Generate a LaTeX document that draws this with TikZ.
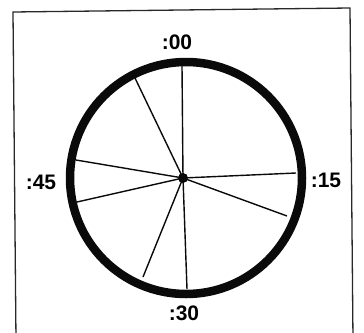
\documentclass[tikz,border=0pt]{standalone}
\usepackage{fontspec}
\setmainfont{Liberation Sans}
\usepackage{tikz}
\usetikzlibrary{positioning,calc}
\definecolor{inkblack}{RGB}{10,10,10}
\definecolor{framegray}{RGB}{40,40,40}
\tikzset{
  rim/.style    ={draw=inkblack, line width=8.5pt},
  spoke/.style  ={draw=inkblack, line width=1.4pt},
  hubdot/.style ={circle, fill=inkblack, inner sep=0pt, minimum size=10pt},
  minlbl/.style ={font=\fontsize{21}{21}\selectfont\bfseries, inner sep=0pt},
  frame/.style  ={draw=framegray, line width=1.3pt}
}
\begin{document}
\begin{tikzpicture}[x=1pt, y=-1pt]
\useasboundingbox (0,0) rectangle (364,332);
\draw[frame] (16,340) -- (13,12) -- (350,8) -- (353,340);
\draw[rim] (186,178) circle[radius=116];
\node[hubdot] (hub) at (183,178) {};
\coordinate (r1) at (182,66);
\coordinate (r2) at (135,78);
\coordinate (r3) at (76,160);
\coordinate (r4) at (77,202);
\coordinate (r5) at (143,277);
\coordinate (r6) at (187,289);
\coordinate (r7) at (287,216);
\coordinate (r8) at (296,173);
\foreach \r in {r1,r2,r3,r4,r5,r6,r7,r8}
  \draw[spoke] (hub.center) -- (\r);
\node[minlbl] (m00) at (177,42) {:00};
\node[minlbl] (m15) at (326,180) {:15};
\node[minlbl] (m30) at (184,313) {:30};
\node[minlbl] (m45) at (41,182) {:45};
\end{tikzpicture}
\end{document}
